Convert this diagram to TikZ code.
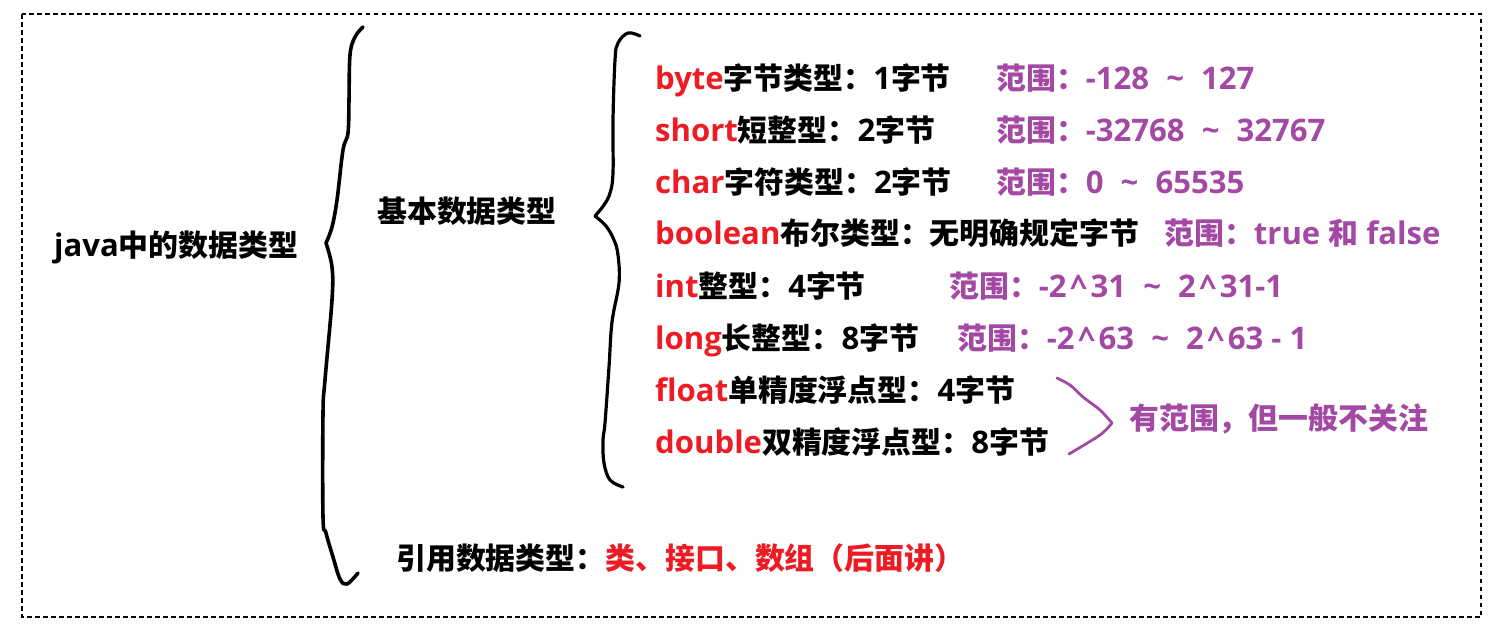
\documentclass[tikz,border=0pt]{standalone}
\usepackage{fontspec}
\setmainfont{Noto Sans CJK SC}
\newfontfamily\latfont{Open Sans}[Scale=1.04]
\definecolor{pred}{HTML}{ED1C24}
\definecolor{ppur}{HTML}{A349A4}
\newcommand{\ltn}[1]{{\latfont\bfseries #1}}
\newcommand{\tld}{\hspace{0.55em}\textasciitilde\hspace{0.55em}}
\newcommand{\crt}{\kern0.12em\textasciicircum\kern0.12em}
\begin{document}
\begin{tikzpicture}[x=1pt,y=-1pt,
  txt/.style={anchor=base west,inner sep=0pt,font=\fontsize{29.9}{29.9}\selectfont\bfseries},
  rng/.style={txt,text=ppur},
  brace/.style={line width=3.6pt,line cap=round,line join=round}]
\useasboundingbox (0,0) rectangle (1505,633);
\draw[line width=1.3pt,dash pattern=on 4.5pt off 3.5pt] (22,14) rectangle (1481,617);

% big brace
\draw[brace] plot[smooth,tension=0.6] coordinates {(363,27) (355,37) (350,55) (349,100) (348,133) (343,150) (337,200) (332,227) (326,243)};
\draw[brace] plot[smooth,tension=0.6] coordinates {(326,243) (332,267) (332,300) (325,380) (323,413) (323,517) (326,533) (333,557) (340,579) (347,584) (358,573)};

% small brace
\draw[brace,line width=3.2pt] plot[smooth,tension=0.6] coordinates {(640,36) (628,33) (618,43) (615,60) (613,120) (613,173) (610,193) (604,205) (595,216)};
\draw[brace,line width=3.2pt] plot[smooth,tension=0.6] coordinates {(595,216) (606,226) (614,240) (618,255) (619,283) (612,322) (609,367) (605,423) (603,440) (604,463) (610,480) (623,487)};

% purple brace
\draw[brace,line width=2.8pt,ppur] plot[smooth,tension=0.5] coordinates {(1057,378) (1070,385) (1083,397) (1100,410) (1112,423)};
\draw[brace,line width=2.8pt,ppur] plot[smooth,tension=0.5] coordinates {(1112,423) (1100,435) (1069,454)};

\node[txt] (root) at (54,256) {\ltn{java}中的数据类型};
\node[txt] (basic) at (377,222) {基本数据类型};

\node[txt] (b1) at (655,89)  {\textcolor{pred}{\ltn{byte}}字节类型：\ltn{1}字节};
\node[rng] (r1) at (996,89)  {范围：\ltn{-128\tld 127}};
\node[txt] (b2) at (655,141) {\textcolor{pred}{\ltn{short}}短整型：\ltn{2}字节};
\node[rng] (r2) at (996,141) {范围：\ltn{-32768\tld 32767}};
\node[txt] (b3) at (655,193) {\textcolor{pred}{\ltn{char}}字符类型：\ltn{2}字节};
\node[rng] (r3) at (996,193) {范围：\ltn{0\tld 65535}};
\node[txt] (b4) at (655,244) {\textcolor{pred}{\ltn{boolean}}布尔类型：无明确规定字节};
\node[rng] (r4) at (1164,244) {范围：\ltn{true }和\ltn{ false}};
\node[txt] (b5) at (655,297) {\textcolor{pred}{\ltn{int}}整型：\ltn{4}字节};
\node[rng] (r5) at (949,297) {范围：\ltn{-2\crt31\tld 2\crt31-1}};
\node[txt] (b6) at (655,349) {\textcolor{pred}{\ltn{long}}长整型：\ltn{8}字节};
\node[rng] (r6) at (957,349) {范围：\ltn{-2\crt63\tld 2\crt63 - 1}};
\node[txt] (b7) at (655,401) {\textcolor{pred}{\ltn{float}}单精度浮点型：\ltn{4}字节};
\node[txt] (b8) at (655,453) {\textcolor{pred}{\ltn{double}}双精度浮点型：\ltn{8}字节};
\node[rng] (fl) at (1129,429) {有范围，但一般不关注};

\node[txt] (ref) at (396,569) {引用数据类型：\textcolor{pred}{类、接口、数组（后面讲）}};
\end{tikzpicture}
\end{document}
